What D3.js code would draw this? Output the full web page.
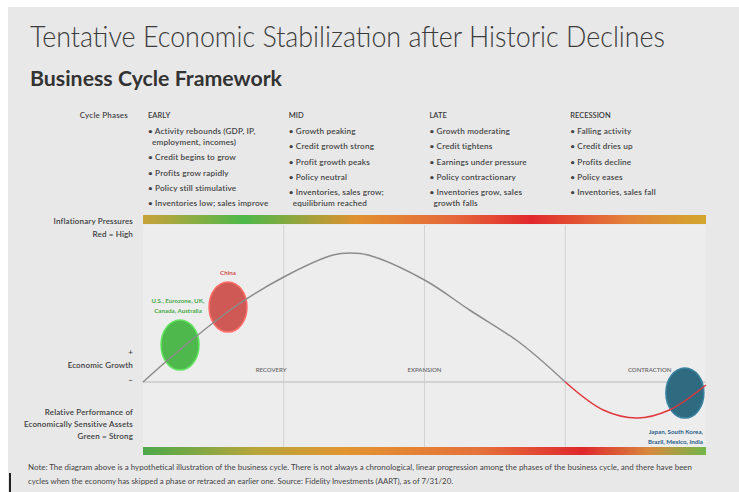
<!DOCTYPE html>
<meta charset="utf-8">
<script src="https://d3js.org/d3.v7.min.js"></script>
<style>
  body { margin: 0; background: #fff; }
  svg { display: block; }
  text { font-family: Lato, "Open Sans", sans-serif; }
</style>
<div id="chart"></div>
<script>

// ---- data ----
var phases = ["EARLY", "MID", "LATE", "RECESSION"];
var bullets = [
  ["Activity rebounds (GDP, IP,|employment, incomes)", "Credit begins to grow", "Profits grow rapidly", "Policy still stimulative", "Inventories low; sales improve"],
  ["Growth peaking", "Credit growth strong", "Profit growth peaks", "Policy neutral", "Inventories, sales grow;|equilibrium reached"],
  ["Growth moderating", "Credit tightens", "Earnings under pressure", "Policy contractionary", "Inventories grow, sales|growth falls"],
  ["Falling activity", "Credit dries up", "Profits decline", "Policy eases", "Inventories, sales fall"]
];
var stageLabels = ["RECOVERY", "EXPANSION", "CONTRACTION"];
var stageAt = [0.91, 2.0, 3.6];

// cycle position (0..4 = phase boundaries) vs. economic growth (0 = axis)
var growthUp = [[0, 0], [0.26, 0.64], [0.64, 1.48], [1.0, 2.1], [1.35, 2.54], [1.47, 2.58], [1.6, 2.54], [2.0, 2.04], [2.32, 1.44], [2.68, 0.78], [3.0, 0]];
var growthDown = [[3.0, 0], [3.27, -0.56], [3.51, -0.72], [3.74, -0.56], [4.0, -0.06]];

var countryGroups = ["U.S., Eurozone, UK,|Canada, Australia", "China", "Japan, South Korea,|Brazil, Mexico, India"];
var countryPos = [[0.263, 0.74], [0.604, 1.5], [3.85, -0.22]];
var countryFill = ["#4fb84c", "#cf5a55", "#2e6a80"];
var countryText = ["#4aa94a", "#d2504c", "#2b5d88"];

var inflationStops = [[0, "#c9a23a"], [0.18, "#4db84a"], [0.38, "#e0902f"], [0.55, "#e5693a"], [0.69, "#e2282d"], [0.86, "#e3823a"], [1, "#d3a62d"]];
var assetStops = [[0, "#4ca94b"], [0.2, "#b7a53b"], [0.36, "#e29430"], [0.6, "#e5713a"], [0.78, "#e0272c"], [0.9, "#d88a3e"], [1, "#72b64a"]];

var noteLines = [
  "Note: The diagram above is a hypothetical illustration of the business cycle. There is not always a chronological, linear progression among the phases of the business cycle, and there have been",
  "cycles when the economy has skipped a phase or retraced an earlier one. Source: Fidelity Investments (AART), as of 7/31/20."
];

// ---- svg ----
var W = 739, H = 492;
var svg = d3.select("#chart").append("svg").attr("width", W).attr("height", H);

svg.append("rect").attr("x", 8).attr("y", 7).attr("width", W - 8).attr("height", H - 7).attr("fill", "#e8e8e9");

var x = d3.scaleLinear().domain([0, 4]).range([143, 706]);
var y = d3.scaleLinear().domain([-1.3, 3.14]).range([447, 225]);

// titles
svg.append("text").attr("x", 30).attr("y", 47)
  .attr("font-size", 30).attr("font-weight", 300).attr("fill", "#3b3b3b")
  .attr("textLength", 635).attr("lengthAdjust", "spacingAndGlyphs")
  .text("Tentative Economic Stabilization after Historic Declines");
svg.append("text").attr("x", 30).attr("y", 86)
  .attr("font-size", 21).attr("font-weight", 700).attr("fill", "#333")
  .attr("textLength", 252).attr("lengthAdjust", "spacingAndGlyphs")
  .text("Business Cycle Framework");

// plot panel
svg.append("rect").attr("x", x(0)).attr("y", y(3.14)).attr("width", x(4) - x(0)).attr("height", y(-1.3) - y(3.14))
  .attr("fill", "#ededee");

// phase dividers
svg.selectAll(".divider").data([1, 2, 3]).enter().append("line")
  .attr("x1", function(d) { return x(d); }).attr("x2", function(d) { return x(d); })
  .attr("y1", y(3.14)).attr("y2", y(-1.3))
  .attr("stroke", "#d2d2d3").attr("stroke-width", 1);

// growth axis
svg.append("line").attr("x1", x(0)).attr("x2", x(4)).attr("y1", y(0)).attr("y2", y(0))
  .attr("stroke", "#c9c9ca").attr("stroke-width", 1.5);

// gradient bars
var defs = svg.append("defs");
function gradient(id, stops) {
  var g = defs.append("linearGradient").attr("id", id).attr("x1", "0%").attr("x2", "100%");
  g.selectAll("stop").data(stops).enter().append("stop")
    .attr("offset", function(d) { return d[0]; })
    .attr("stop-color", function(d) { return d[1]; });
}
gradient("infl", inflationStops);
gradient("asset", assetStops);
svg.append("rect").attr("x", x(0)).attr("y", 215).attr("width", x(4) - x(0)).attr("height", 9).attr("fill", "url(#infl)");
svg.append("rect").attr("x", x(0)).attr("y", 447).attr("width", x(4) - x(0)).attr("height", 8).attr("fill", "url(#asset)");

// phase header + bullets
svg.append("text").attr("x", 128).attr("y", 118).attr("text-anchor", "end")
  .attr("font-size", 8).attr("font-weight", 600).attr("fill", "#444").attr("letter-spacing", 0.2).text("Cycle Phases");

phases.forEach(function(p, i) {
  var cx = x(i) + 5;
  svg.append("text").attr("x", cx).attr("y", 118)
    .attr("font-size", 7.5).attr("font-weight", 600).attr("fill", "#3a3a3a").text(p);
  var yy = 134;
  bullets[i].forEach(function(b) {
    var parts = b.split("|");
    parts.forEach(function(line, k) {
      if (k > 0) yy += 11;
      svg.append("text").attr("x", cx + (k > 0 ? 4 : 0)).attr("y", yy)
        .attr("font-size", 8.2).attr("font-weight", 600).attr("fill", "#444").attr("letter-spacing", 0.15)
        .text((k === 0 ? "\u2022 " : "") + line);
    });
    yy += 15.3;
  });
});

// left labels
function leftLabel(lines, y0, dy) {
  lines.forEach(function(l, k) {
    svg.append("text").attr("x", 133).attr("y", y0 + k * dy).attr("text-anchor", "end")
      .attr("font-size", 8).attr("font-weight", 600).attr("fill", "#3c3c3c").attr("letter-spacing", 0.15).text(l);
  });
}
leftLabel(["Inflationary Pressures", "Red = High"], 224, 13);
leftLabel(["+"], 355, 0);
leftLabel(["Economic Growth"], 368, 0);
leftLabel(["\u2013"], 383, 0);
leftLabel(["Relative Performance of", "Economically Sensitive Assets", "Green = Strong"], 415, 12);

// stage labels
svg.selectAll(".stage").data(stageLabels).enter().append("text")
  .attr("x", function(d, i) { return x(stageAt[i]); }).attr("y", 372)
  .attr("text-anchor", "middle").attr("font-size", 6).attr("font-weight", 600).attr("fill", "#6a6a6a")
  .text(function(d) { return d; });

// country bubbles (behind curve)
svg.selectAll(".bubble").data(countryPos).enter().append("ellipse")
  .attr("cx", function(d) { return x(d[0]); }).attr("cy", function(d) { return y(d[1]); })
  .attr("rx", 19).attr("ry", 25)
  .attr("fill", function(d, i) { return countryFill[i]; })
  .attr("stroke", function(d, i) { return d3.color(countryFill[i]).brighter(0.6); })
  .attr("stroke-width", 1.5);

// cycle curve
var line = d3.line().x(function(d) { return x(d[0]); }).y(function(d) { return y(d[1]); }).curve(d3.curveCatmullRom);
svg.append("path").datum(growthUp).attr("d", line).attr("fill", "none").attr("stroke", "#8c8c8c").attr("stroke-width", 1.5);
svg.append("path").datum(growthDown).attr("d", line).attr("fill", "none").attr("stroke", "#e0363c").attr("stroke-width", 1.5);

// country labels
var labelPos = [[178, 303, "middle"], [228, 275, "middle"], [703, 434, "end"]];
countryGroups.forEach(function(g, i) {
  g.split("|").forEach(function(l, k) {
    svg.append("text").attr("x", labelPos[i][0]).attr("y", labelPos[i][1] + k * 10)
      .attr("text-anchor", labelPos[i][2]).attr("font-size", 6.2).attr("font-weight", 700)
      .attr("fill", countryText[i]).text(l);
  });
});

// note
noteLines.forEach(function(l, k) {
  var t = svg.append("text").attr("x", 28).attr("y", 470 + k * 14)
    .attr("font-family", "Liberation Sans, Arial, sans-serif")
    .attr("font-size", 7.8).attr("fill", "#444").text(l);
  if (k === 0) t.attr("textLength", 664).attr("lengthAdjust", "spacingAndGlyphs");
});

// little dark tick at the lower left of the frame
svg.append("rect").attr("x", 9).attr("y", 473).attr("width", 2).attr("height", 19).attr("fill", "#222");

</script>
